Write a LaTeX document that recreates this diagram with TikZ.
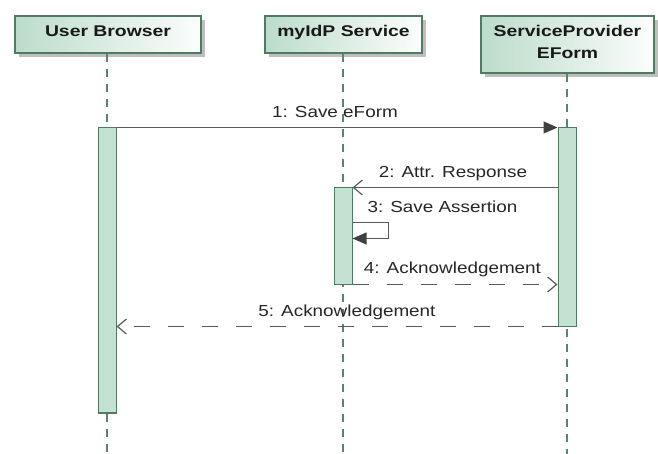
\documentclass[tikz,border=0pt]{standalone}
\usepackage{fontspec}
\usetikzlibrary{arrows.meta,shadows,calc}
\newfontfamily\headfont[FakeStretch=1.25]{Liberation Sans}
\newfontfamily\msgfont[FakeStretch=1.18]{Liberation Sans}
\definecolor{hdgreen}{HTML}{BCDCCB}
\definecolor{brd}{HTML}{4E7B62}
\definecolor{actfill}{HTML}{C3E2D2}
\definecolor{lifec}{HTML}{5F8270}
\definecolor{msgc}{HTML}{5A5A5A}
\definecolor{tipc}{HTML}{404040}
\begin{document}
\begin{tikzpicture}[x=1pt,y=-1pt,
  head/.style={draw=brd, line width=1.3pt, left color=hdgreen, right color=white!95!hdgreen,
    minimum height=37pt, inner sep=0pt,
    drop shadow={shadow xshift=4pt, shadow yshift=-4pt, fill=black!25, opacity=1}},
  headtxt/.style={font=\headfont\bfseries\fontsize{15.5}{18}\selectfont, text=black!90, inner sep=0pt, anchor=base},
  act/.style={draw=brd, line width=1pt, fill=actfill, minimum width=18pt, inner sep=0pt},
  life/.style={draw=lifec, line width=1.2pt, dash pattern=on 8pt off 7pt},
  msg/.style={draw=msgc, line width=1.3pt},
  callmsg/.style={msg, -{Triangle[length=14pt,width=12pt,fill=tipc,color=tipc]}},
  asyncmsg/.style={msg, -{Straight Barb[length=9pt,width=15pt,line width=1.2pt]}},
  replymsg/.style={msg, dash pattern=on 16pt off 18pt, -{Straight Barb[length=9pt,width=15pt,line width=1.2pt]}},
  lbl/.style={font=\msgfont\fontsize{16}{19}\selectfont, text=black!85, inner sep=0pt, anchor=base}
]
\useasboundingbox (0,0) rectangle (658,454);

% heads
\node[head, minimum width=186pt] (ub) at (108,34.5) {};
\node[head, minimum width=157pt] (id) at (343.5,34.5) {};
\node[head, minimum width=173pt, minimum height=57pt] (sp) at (567.5,44.5) {};
\node[headtxt] (ubT) at (108,37) {User Browser};
\node[headtxt] (idT) at (343.5,37) {myIdP Service};
\node[headtxt] (spT1) at (567.5,37) {ServiceProvider};
\node[headtxt] (spT2) at (567.5,59) {EForm};

% lifelines
\coordinate (ubEnd) at (107,454);
\coordinate (idEnd) at (343,454);
\coordinate (spEnd) at (567,454);
\draw[life] (ubEnd |- ub.south) -- (ubEnd);
\draw[life] (idEnd |- id.south) -- (idEnd);
\draw[life] (spEnd |- sp.south) -- (spEnd);

% activations
\node[act, minimum height=284pt] (ubA) at (107,270) {};
\draw[brd, line width=2pt] (ubA.south west) -- (ubA.south east);
\node[act, minimum height=96pt] (idA) at (343,236) {};
\node[act, minimum height=198pt] (spA) at (567,227) {};

% messages
\draw[callmsg] (ubA.north east) -- (spA.north west);
\node[lbl] (l1) at (335,118) {1: Save eForm};

\draw[asyncmsg] (spA.west |- idA.north) -- (idA.north east);
\node[lbl] (l2) at (453,178) {2: Attr. Response};

\draw[callmsg] ($(idA.north east)+(0,35)$) -- ++(36,0) -- ++(0,16) -- ++(-36,0);
\node[lbl] (l3) at (442.5,213) {3: Save Assertion};

\draw[replymsg] (idA.south east) -- (idA.south east -| spA.west);
\node[lbl] (l4) at (452.5,273.5) {4: Acknowledgement};

\draw[replymsg] (spA.south west) -- (spA.south west -| ubA.east);
\node[lbl] (l5) at (347,316.7) {5: Acknowledgement};
\end{tikzpicture}
\end{document}
